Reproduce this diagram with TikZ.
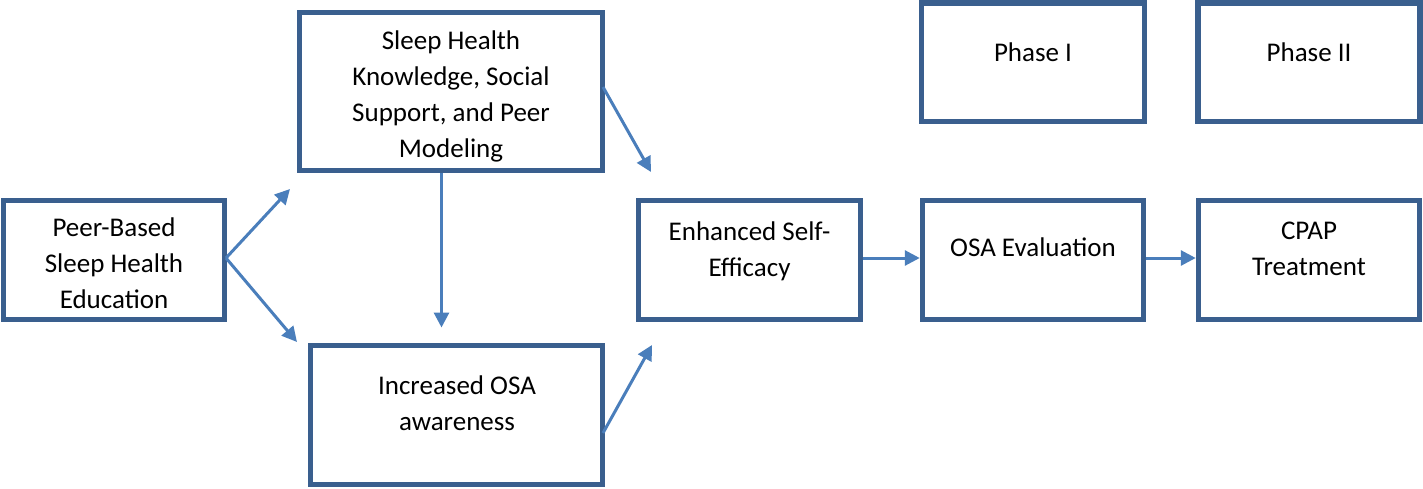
\documentclass[tikz,border=0pt]{standalone}
\usepackage{fontspec}
\setmainfont{Carlito}
\usetikzlibrary{calc,arrows.meta}
\definecolor{boxc}{HTML}{3A5F8E}
\definecolor{arrc}{HTML}{4A7EBB}
\tikzset{
  box/.style={draw=boxc, line width=5.5pt, fill=white, inner sep=0pt, outer sep=0pt},
  lbl/.style={align=center, inner sep=0pt, font=\fontsize{27}{36}\selectfont},
  conn/.style={draw=arrc, line width=3pt, -{Triangle[length=15pt,width=15pt]}}
}
\begin{document}
\begin{tikzpicture}[x=1pt,y=-1pt]
\useasboundingbox (0,0) rectangle (1423,488);
% boxes
\node[box, minimum width=221pt, minimum height=119pt] (a) at (114,260) {};
\node[box, minimum width=303pt, minimum height=158pt] (b) at (451,91.5) {};
\node[box, minimum width=292pt, minimum height=139pt] (c) at (456.5,415) {};
\node[box, minimum width=222pt, minimum height=119pt] (d) at (749.5,260) {};
\node[box, minimum width=221pt, minimum height=119pt] (e) at (1033,260) {};
\node[box, minimum width=221pt, minimum height=119pt] (f) at (1309,260) {};
\node[box, minimum width=223pt, minimum height=118.5pt] (p1) at (1033,62.25) {};
\node[box, minimum width=222pt, minimum height=118.5pt] (p2) at (1308.75,62.25) {};
% labels
\node[lbl] (ta) at ($(a.center)+(0,3)$) {Peer-Based\\Sleep Health\\Education};
\node[lbl] (tb) at ($(b.center)+(0,4.5)$) {Sleep Health\\Knowledge, Social\\Support, and Peer\\Modeling};
\node[lbl] (tc) at ($(c.center)+(0.5,-11.5)$) {Increased OSA\\awareness};
\node[lbl] (td) at ($(d.center)+(0,-9)$) {Enhanced Self-\\Efficacy};
\node[lbl] (te) at ($(e.center)+(0,-12.5)$) {OSA Evaluation};
\node[lbl] (tf) at ($(f.center)+(0,-10.7)$) {CPAP\\Treatment};
\node[lbl] (tp1) at ($(p1.center)+(0,-9.75)$) {Phase I};
\node[lbl] (tp2) at ($(p2.center)+(0.25,-9.75)$) {Phase II};
% connectors
\draw[conn] ($(a.east)+(1.5,-2)$) -- ($(b.south west)+(-9.5,18.5)$);
\draw[conn] ($(a.east)+(1.5,-2)$) -- ($(c.north west)+(-13.5,-3.5)$);
\draw[conn] ($(b.south)+(-9.5,2.75)$) -- ($(c.north)+(-15,-18)$);
\draw[conn] ($(b.east)+(0.5,-4.5)$) -- ($(d.north west)+(12.5,-28.5)$);
\draw[conn] ($(c.east)+(0.5,18)$) -- ($(d.south west)+(13.5,25.5)$);
\draw[conn] ($(d.east)+(2.75,-2)$) -- ($(e.west)+(-2.75,-2)$);
\draw[conn] ($(e.east)+(2.75,-2)$) -- ($(f.west)+(-2.75,-2)$);
\end{tikzpicture}
\end{document}
